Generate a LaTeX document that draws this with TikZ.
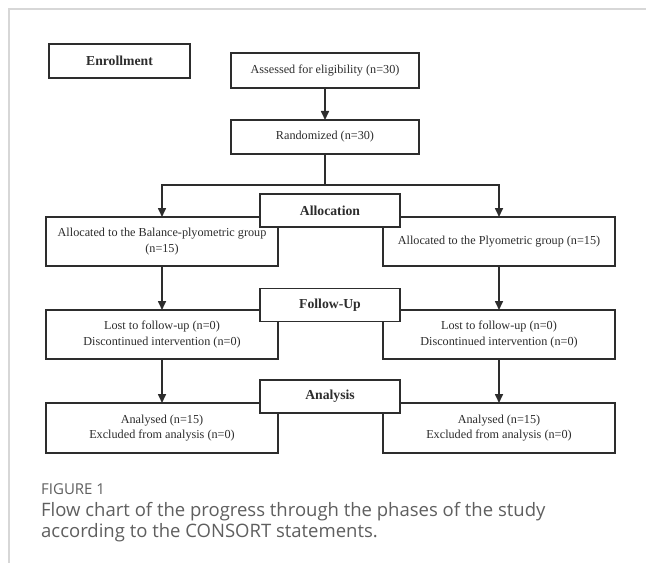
\documentclass[tikz,border=0pt]{standalone}
\usepackage{fontspec}
\setmainfont{Liberation Serif}
\newfontfamily\capfont{Open Sans}
\usetikzlibrary{arrows.meta}
\definecolor{ink}{RGB}{45,45,45}
\definecolor{framegray}{RGB}{215,215,215}
\definecolor{capgray}{RGB}{95,95,95}
\tikzset{
  box/.style={draw=ink, line width=1.6bp, fill=white, inner sep=0pt, outer sep=0pt, align=center,
    font=\fontsize{12.2bp}{15.5bp}\selectfont, text=ink},
  phase/.style={box, font=\fontsize{13.7bp}{16bp}\selectfont\bfseries, minimum width=140bp, minimum height=33bp},
  side/.style={box, minimum width=232bp, minimum height=49bp},
  arr/.style={draw=ink, line width=1.6bp, -{Triangle[length=9bp,width=8bp]}},
  ln/.style={draw=ink, line width=1.6bp},
}
\begin{document}
\begin{tikzpicture}[x=1bp,y=-1bp]
\useasboundingbox (0,0) rectangle (646,563);
\fill[white] (0,0) rectangle (646,563);
% frame
\coordinate (f1) at (9,563);
\coordinate (f2) at (9,9);
\coordinate (f3) at (646,9);
\draw[framegray, line width=1.3bp] (f1) -- (f2) -- (f3);
% enrollment
\node[phase, minimum width=141bp, minimum height=34bp] (enr) at (119.5,61) {Enrollment};
\node[box, minimum width=188bp, minimum height=35bp] (ass) at (325,70.5) {Assessed for eligibility (n=30)};
\node[box, minimum width=188bp, minimum height=34bp] (ran) at (325,137) {Randomized (n=30)};
% side boxes
\node[side] (la) at (162,241.5) {Allocated to the Balance-plyometric group\\(n=15)};
\node[side] (ra) at (499,241.5) {Allocated to the Plyometric group (n=15)};
\node[side] (lf) at (162,334.5) {Lost to follow-up (n=0)\\Discontinued intervention (n=0)};
\node[side] (rf) at (499,334.5) {Lost to follow-up (n=0)\\Discontinued intervention (n=0)};
\node[side, minimum height=50bp] (ln) at (162,428) {Analysed (n=15)\\Excluded from analysis (n=0)};
\node[side, minimum height=50bp] (rn) at (499,428) {Analysed (n=15)\\Excluded from analysis (n=0)};
% phase labels
\node[phase] (alloc) at (330,210.5) {Allocation};
\node[phase] (fol) at (330,305) {Follow-Up};
\node[phase] (ana) at (330,396.5) {Analysis};
% connectors
\coordinate (split) at (325,185);
\draw[arr] (ass) -- (ran);
\draw[ln] (ran.south) -- (split);
\draw[arr] (split) -| (la.north);
\draw[arr] (split) -| (ra.north);
\draw[arr] (la) -- (lf);
\draw[arr] (ra) -- (rf);
\draw[arr] (lf) -- (ln);
\draw[arr] (rf) -- (rn);
% caption
\node[anchor=base west, inner sep=0pt, text=capgray, font=\capfont\fontsize{15bp}{18bp}\selectfont] (fig) at (41,494) {FIGURE 1};
\node[anchor=base west, inner sep=0pt, text=capgray, font=\capfont\fontsize{18.5bp}{21bp}\selectfont] (cap1) at (41,516) {Flow chart of the progress through the phases of the study};
\node[anchor=base west, inner sep=0pt, text=capgray, font=\capfont\fontsize{18.5bp}{21bp}\selectfont] (cap2) at (41,537) {according to the CONSORT statements.};
\end{tikzpicture}
\end{document}
